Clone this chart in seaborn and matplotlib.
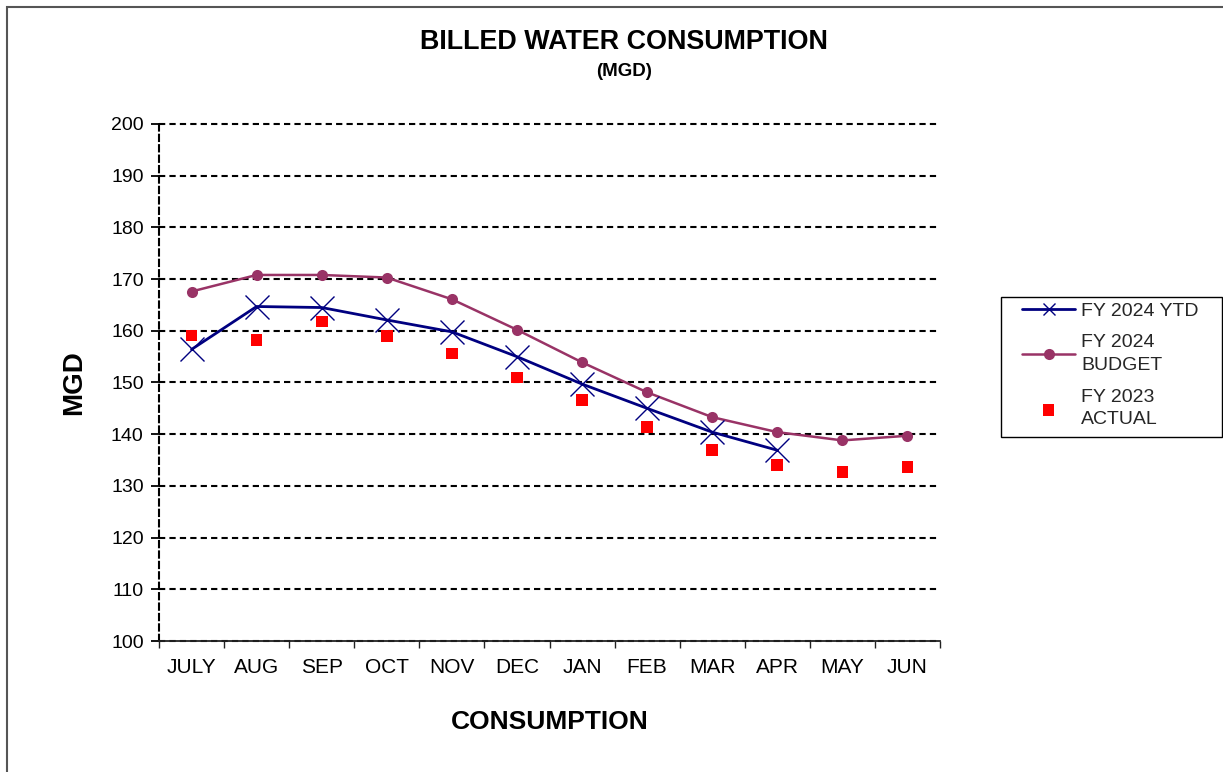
import matplotlib
matplotlib.use("Agg")
import matplotlib.pyplot as plt
import matplotlib.patches as mpatches
from matplotlib.ticker import FixedLocator
import numpy as np
import pandas as pd
import seaborn as sns

months = ["JULY", "AUG", "SEP", "OCT", "NOV", "DEC", "JAN", "FEB", "MAR", "APR", "MAY", "JUN"]
fy2024_ytd = [156.4, 164.7, 164.5, 162.1, 159.8, 155.0, 149.7, 145.0, 140.4, 136.9, np.nan, np.nan]
fy2024_budget = [167.6, 170.8, 170.8, 170.3, 166.1, 160.2, 153.9, 148.1, 143.3, 140.4, 138.8, 139.7]
fy2023_actual = [159.1, 158.2, 161.8, 159.0, 155.6, 151.0, 146.6, 141.4, 137.0, 134.0, 132.7, 133.6]
y_ticks = list(range(100, 201, 10))

sns.set_theme(style="white")
plt.rcParams["font.family"] = ["Liberation Sans", "DejaVu Sans"]

df = pd.DataFrame({
    "pos": np.arange(len(months)),
    "month": months,
    "ytd": fy2024_ytd,
    "budget": fy2024_budget,
    "actual": fy2023_actual,
})

W, H = 1223, 772
fig = plt.figure(figsize=(W / 100, H / 100), dpi=100)
fig.patch.set_facecolor("white")
ax = fig.add_axes([159 / W, 1 - 641 / H, (940 - 159) / W, (641 - 124) / H])

dash = (0, (3, 2))
ax.set_axisbelow(True)
ax.yaxis.grid(True, color="black", linestyle=dash, linewidth=1.5)
ax.xaxis.grid(False)

sns.lineplot(data=df.dropna(subset=["ytd"]), x="pos", y="ytd", ax=ax, color="#000080",
             linewidth=2.0, marker="x", markersize=17, markeredgewidth=1.0,
             markeredgecolor="#000080", label="FY 2024 YTD", zorder=4)
sns.lineplot(data=df, x="pos", y="budget", ax=ax, color="#993366",
             linewidth=1.8, marker="o", markersize=8, markeredgewidth=0,
             markerfacecolor="#993366", label="FY 2024\nBUDGET", zorder=3)
sns.scatterplot(data=df, x="pos", y="actual", ax=ax, color="#FF0000", marker="s",
                s=70, edgecolor="none", label="FY 2023\nACTUAL", zorder=5)

ax.set_xlim(-0.5, len(months) - 0.5)
ax.set_ylim(100, 200)
ax.set_yticks(y_ticks)
ax.set_yticklabels([str(v) for v in y_ticks], fontsize=14, color="black")
ax.set_xticks(df["pos"])
ax.set_xticklabels(months, fontsize=15, color="black")
ax.xaxis.set_minor_locator(FixedLocator(np.arange(-0.5, len(months), 1.0)))
ax.tick_params(axis="x", which="major", length=0, pad=12)
ax.tick_params(axis="x", which="minor", length=5, width=1, color="#222222", direction="out", bottom=True)
ax.tick_params(axis="y", which="major", length=6, width=1.3, color="black", direction="out", left=True, pad=5)
for gl in ax.get_ygridlines():
    gl.set_clip_on(False)

for s in ["top", "right"]:
    ax.spines[s].set_visible(False)
ax.spines["left"].set_linestyle(dash)
ax.spines["left"].set_linewidth(1.5)
ax.spines["left"].set_color("black")
ax.spines["bottom"].set_linewidth(1.3)
ax.spines["bottom"].set_color("#222222")

ax.set_xlabel("CONSUMPTION", fontsize=19, fontweight="bold", labelpad=24, color="black")
ax.set_ylabel("MGD", fontsize=20, fontweight="bold", labelpad=17, color="black")

fig.text(624 / W, 1 - 42 / H, "BILLED WATER CONSUMPTION", ha="center", va="center",
         fontsize=19.4, fontweight="bold", color="black")
fig.text(624 / W, 1 - 72 / H, "(MGD)", ha="center", va="center",
         fontsize=13.5, fontweight="bold", color="black")

leg = ax.legend(loc="upper left", bbox_to_anchor=(1022 / W, 1 - 302 / H),
                bbox_transform=fig.transFigure, fontsize=14, frameon=False,
                borderaxespad=0, borderpad=0, handlelength=2.75, handletextpad=0.3,
                labelspacing=0.75)
for t in leg.get_texts():
    t.set_linespacing(1.45)
leg.legend_handles[0].set_markersize(8)
leg.legend_handles[2].set_sizes([65])

legend_box = mpatches.Rectangle((1001 / W, 1 - 437 / H), (1222 - 1001) / W, (437 - 297) / H,
                                transform=fig.transFigure, fill=False, edgecolor="black",
                                linewidth=1.0, clip_on=False)
fig.add_artist(legend_box)

border = mpatches.Rectangle((7 / W, -0.1), 1.2, 1.0 + 0.1 - 7 / H,
                            transform=fig.transFigure, fill=False, edgecolor="#555555",
                            linewidth=1.5, clip_on=False)
fig.add_artist(border)

fig.savefig("out.png", dpi=100, facecolor="white")
